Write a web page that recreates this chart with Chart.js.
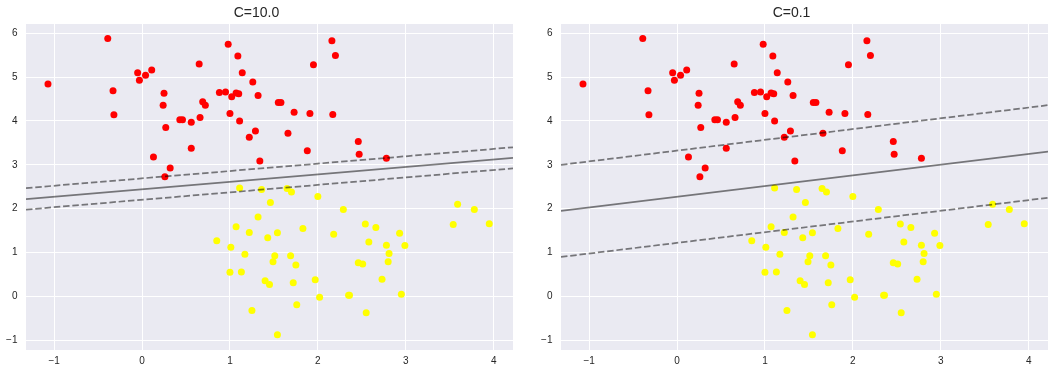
<!DOCTYPE html>
<html><head><meta charset="utf-8">
<script src="https://cdn.jsdelivr.net/npm/chart.js@4.4.1/dist/chart.umd.min.js"></script>
<style>
html,body{margin:0;padding:0;background:#fff;width:1055px;height:373px;overflow:hidden}
canvas{position:absolute;top:0}
#c1{left:0}
#c2{left:535px}
</style></head><body>
<canvas id="c1" width="527" height="373"></canvas>
<canvas id="c2" width="520" height="373"></canvas>
<script>
// class 0 (red) points
const redX = [-1.07,-0.39,-0.33,-0.32,-0.05,-0.03,0.04,0.11,0.13,0.25,0.24,0.27,0.26,0.32,0.43,0.46,0.56,0.56,0.65,0.66,0.69,0.72,0.88,0.95,0.98,1.02,1.00,1.07,1.10,1.09,1.14,1.11,1.26,1.32,1.22,1.29,1.34,2.16,2.20,1.95,1.55,1.58,1.73,1.91,2.17,1.66,1.88,2.46,2.47,2.78];
const redY = [4.84,5.88,4.69,4.14,5.10,4.93,5.04,5.16,3.18,4.63,4.36,3.85,2.73,2.93,4.03,4.03,3.97,3.38,5.30,4.08,4.44,4.36,4.65,4.66,5.75,4.55,4.17,4.64,4.62,5.48,5.10,4.00,4.89,4.58,3.63,3.77,3.09,5.83,5.49,5.28,4.42,4.42,4.20,4.17,4.15,3.72,3.32,3.53,3.24,3.15];
// class 1 (yellow) points
const yellowX = [1.11,1.36,1.32,1.07,1.22,0.85,1.01,1.17,1.00,1.13,1.40,1.45,1.25,1.43,1.65,1.70,2.00,1.46,2.29,1.54,1.83,2.18,2.54,2.66,2.58,2.93,2.78,2.99,2.81,2.80,1.51,1.49,1.69,1.75,2.46,2.51,1.72,1.97,2.02,2.35,2.36,2.73,2.95,1.76,2.55,1.54,3.59,3.78,3.54,3.95];
const yellowY = [2.47,2.44,1.81,1.59,1.46,1.27,1.12,0.96,0.55,0.56,0.36,0.27,-0.32,1.34,2.46,2.38,2.28,2.14,1.98,1.45,1.55,1.42,1.65,1.57,1.24,1.44,1.17,1.16,0.98,0.79,0.93,0.79,0.93,0.72,0.77,0.74,0.31,0.38,-0.02,0.03,0.03,0.39,0.05,-0.19,-0.37,-0.87,2.10,1.98,1.64,1.66];
// axis limits and ticks
const xLimits = [-1.32, 4.22];
const yLimits = [-1.22, 6.21];
const xTicks = [-1,0,1,2,3,4];
const yTicks = [-1,0,1,2,3,4,5,6];
// decision boundary / margins: y values at the two x limits
const titles = ['C=10.0', 'C=0.1'];
const solidC10 = [2.22, 3.16];
const upperC10 = [2.47, 3.40];
const lowerC10 = [1.98, 2.92];
const solidC01 = [1.95, 3.30];
const upperC01 = [3.00, 4.36];
const lowerC01 = [0.90, 2.25];

const FONT = "'Liberation Sans', Arial, sans-serif";
const TXT = '#262626';
const fmt = v => v < 0 ? '\u2212' + Math.abs(v) : String(v);

const bgPlugin = {
  id: 'plotbg',
  beforeDraw(chart) {
    const a = chart.chartArea, ctx = chart.ctx;
    ctx.save();
    ctx.fillStyle = '#EAEAF2';
    ctx.fillRect(a.left, a.top, a.right - a.left, a.bottom - a.top);
    ctx.restore();
  }
};

function pts(xs, ys) { return xs.map((x, i) => ({x: x, y: ys[i]})); }
function seg(yv) { return [{x: xLimits[0], y: yv[0]}, {x: xLimits[1], y: yv[1]}]; }
function lineDs(yv, dash) {
  return {data: seg(yv), showLine: true, borderColor: 'rgba(0,0,0,0.5)', borderWidth: 1.75,
          borderDash: dash, pointRadius: 0, fill: false, order: 0, tension: 0};
}
function ptDs(xs, ys, col) {
  return {data: pts(xs, ys), backgroundColor: col, pointBackgroundColor: col, pointRadius: 3.5,
          pointHoverRadius: 3.5, borderWidth: 0, pointBorderWidth: 0, order: 1};
}

function makeChart(id, title, solid, upper, lower, rightPad) {
  new Chart(document.getElementById(id), {
    type: 'scatter',
    data: {datasets: [
      lineDs(solid, []),
      lineDs(upper, [6.5, 2.8]),
      lineDs(lower, [6.5, 2.8]),
      ptDs(redX, redY, '#ff0000'),
      ptDs(yellowX, yellowY, '#ffff00')
    ]},
    options: {
      responsive: false, animation: false, devicePixelRatio: 1,
      layout: {padding: {left: 0, right: rightPad, top: 0, bottom: 0}},
      plugins: {
        legend: {display: false}, tooltip: {enabled: false},
        title: {display: true, text: title, color: TXT,
                font: {family: FONT, size: 14, weight: 'normal', lineHeight: 1.2},
                padding: {top: 4.5, bottom: 2.7}}
      },
      scales: {
        x: {type: 'linear', min: xLimits[0], max: xLimits[1],
            afterBuildTicks: s => { s.ticks = xTicks.map(v => ({value: v})); },
            afterFit: s => { s.height = 23; },
            grid: {color: '#ffffff', lineWidth: 1, drawTicks: false},
            border: {display: false},
            ticks: {includeBounds: false, padding: 5, color: TXT, maxRotation: 0,
                    font: {family: FONT, size: 10}, callback: fmt}},
        y: {type: 'linear', min: yLimits[0], max: yLimits[1],
            afterBuildTicks: s => { s.ticks = yTicks.map(v => ({value: v})); },
            afterFit: s => { s.width = 26; },
            grid: {color: '#ffffff', lineWidth: 1, drawTicks: false},
            border: {display: false},
            ticks: {includeBounds: false, padding: 8.5, color: TXT,
                    font: {family: FONT, size: 10}, callback: fmt}}
      }
    },
    plugins: [bgPlugin]
  });
}

makeChart('c1', titles[0], solidC10, upperC10, lowerC10, 14);
makeChart('c2', titles[1], solidC01, upperC01, lowerC01, 7);
</script>
</body></html>
